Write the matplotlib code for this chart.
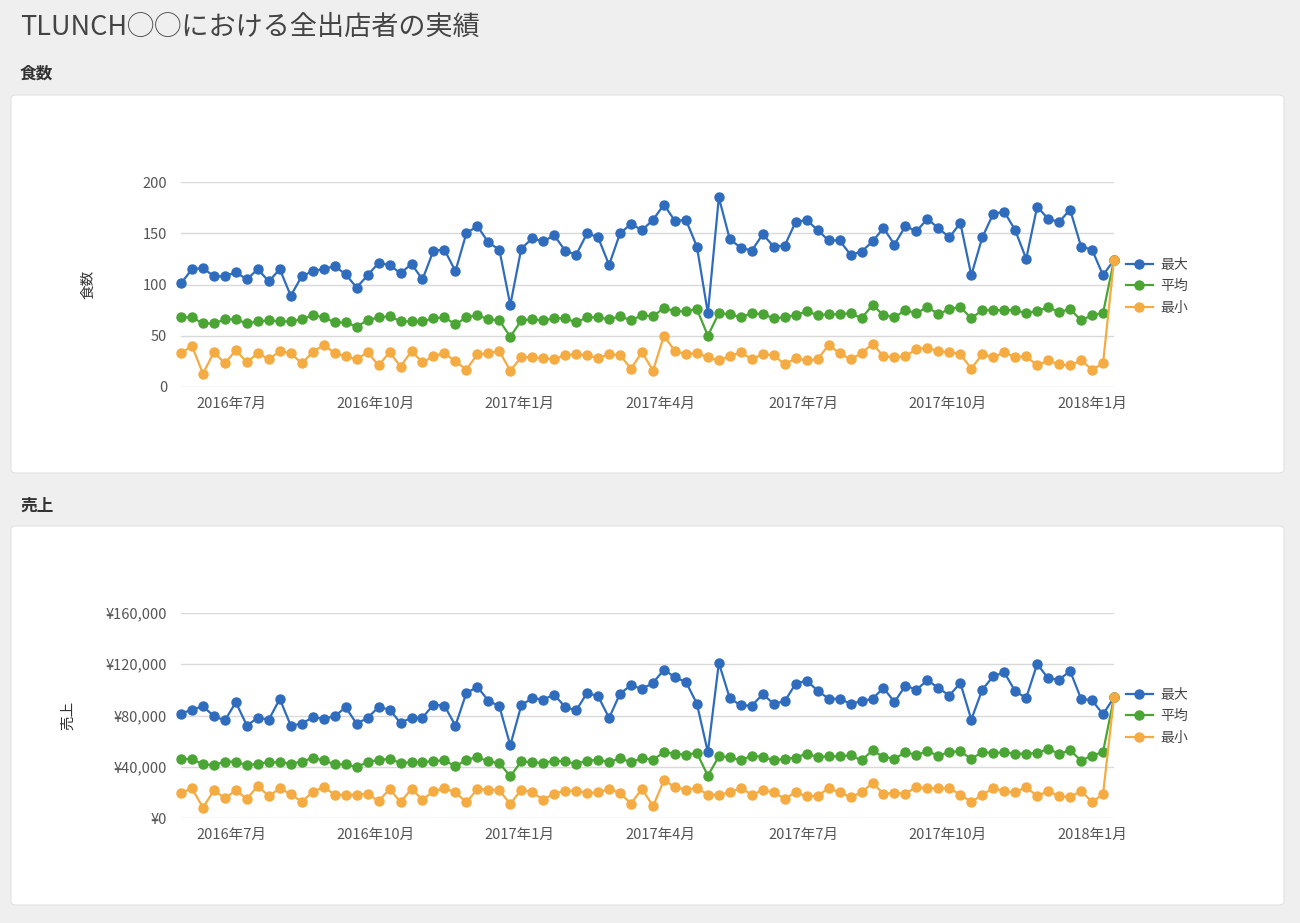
import matplotlib
matplotlib.use("Agg")
import matplotlib.pyplot as plt
import matplotlib.dates as mdates
from matplotlib.patches import FancyBboxPatch
from matplotlib.ticker import FuncFormatter, MultipleLocator
import pandas as pd

plt.rcParams['font.family'] = ['Noto Sans CJK JP', 'DejaVu Sans']

# weekly dates (Mondays)
weeks = pd.date_range('2016-05-30', periods=86, freq='W-MON')

# 食数
meals_max = [101, 115, 116, 108, 108, 112, 105, 115, 103, 115, 89, 108, 113, 115, 118, 110, 97, 109, 121, 119,
             111, 120, 105, 133, 134, 113, 150, 157, 141, 134, 80, 135, 145, 142, 148, 133, 129, 150, 146, 119,
             150, 159, 153, 163, 178, 162, 163, 137, 72, 185, 144, 136, 133, 149, 137, 138, 161, 163, 153, 143,
             143, 129, 132, 142, 155, 139, 157, 152, 164, 155, 146, 160, 109, 146, 169, 171, 153, 125, 176, 164,
             161, 173, 137, 134, 109, 124]
meals_avg = [68, 68, 62, 62, 66, 66, 62, 64, 65, 64, 64, 66, 70, 68, 63, 63, 59, 65, 68, 69,
             64, 64, 64, 67, 68, 61, 68, 70, 66, 65, 49, 65, 66, 65, 67, 67, 63, 68, 68, 66,
             69, 65, 70, 69, 77, 74, 74, 76, 50, 72, 71, 68, 72, 71, 67, 68, 70, 74, 70, 71,
             71, 72, 67, 80, 70, 68, 75, 72, 78, 71, 76, 78, 67, 75, 75, 75, 75, 72, 74, 78,
             73, 76, 65, 70, 72, 124]
meals_min = [33, 40, 13, 34, 23, 36, 24, 33, 27, 35, 33, 23, 34, 41, 33, 30, 27, 34, 21, 34,
             20, 35, 24, 30, 33, 25, 17, 32, 33, 35, 16, 29, 29, 28, 27, 31, 32, 31, 28, 32,
             31, 18, 34, 16, 50, 35, 32, 33, 29, 26, 30, 34, 27, 32, 31, 22, 28, 26, 27, 41,
             33, 27, 33, 42, 30, 29, 30, 37, 38, 35, 34, 32, 18, 32, 29, 34, 29, 30, 21, 26,
             22, 21, 26, 17, 23, 124]

# 売上 (thousand yen)
sales_max = [81.4, 84.6, 87.2, 79.4, 76.2, 90.3, 72.1, 78.3, 76.8, 92.9, 72.1, 73.6, 78.6, 77.5, 79.4, 86.4,
             73.6, 78.1, 86.6, 84.6, 74.2, 78.3, 78.3, 88.5, 87.7, 72.1, 97.6, 102.3, 91.6, 87.2, 56.7, 87.9,
             93.7, 92.4, 96.3, 86.6, 84.0, 97.6, 95.0, 78.1, 97.1, 103.6, 100.7, 105.4, 115.8, 109.8, 106.2,
             89.2, 51.3, 121.0, 93.4, 87.9, 87.7, 96.5, 89.2, 91.1, 104.9, 107.2, 99.4, 93.1, 93.1, 89.2, 91.1,
             93.1, 101.5, 90.5, 103.3, 100.2, 107.5, 101.5, 95.5, 105.4, 76.8, 100.2, 110.6, 113.7, 98.9, 93.7,
             120.2, 109.0, 108.0, 114.7, 93.1, 91.9, 80.9, 94.2]
sales_avg = [46.1, 46.1, 41.9, 41.4, 44.0, 44.0, 41.1, 42.4, 43.5, 43.5, 42.4, 44.0, 46.8, 45.0, 41.9, 41.9,
             39.8, 43.5, 45.5, 46.1, 42.9, 43.5, 43.5, 44.5, 45.0, 40.3, 45.5, 47.4, 44.2, 42.9, 32.5, 44.2,
             43.5, 42.9, 44.8, 44.2, 42.2, 44.8, 45.5, 43.7, 46.6, 43.5, 46.8, 45.5, 51.3, 50.2, 49.4, 50.7,
             33.0, 48.1, 47.6, 45.0, 48.7, 47.6, 45.0, 46.1, 47.1, 50.2, 47.6, 48.1, 48.1, 48.9, 45.0, 52.8,
             47.6, 46.3, 51.3, 49.2, 52.0, 48.7, 51.5, 52.0, 46.1, 51.5, 50.7, 51.3, 50.2, 50.2, 50.7, 54.1,
             50.0, 52.8, 44.8, 48.7, 51.5, 94.2]
sales_min = [19.5, 23.2, 8.1, 21.6, 15.4, 21.6, 14.8, 25.2, 16.9, 23.2, 18.5, 12.7, 20.3, 24.2, 18.2, 18.2,
             18.2, 19.0, 13.0, 22.6, 12.5, 22.6, 14.3, 20.8, 23.2, 20.0, 12.2, 22.6, 22.1, 21.6, 10.9, 22.1,
             20.0, 14.3, 19.0, 21.3, 21.3, 19.5, 20.0, 22.6, 19.5, 11.2, 22.9, 9.1, 29.4, 24.2, 22.1, 23.4,
             18.2, 18.2, 20.0, 23.4, 18.2, 21.6, 20.0, 15.1, 20.0, 16.9, 17.4, 23.2, 20.0, 16.4, 20.0, 27.3,
             19.0, 19.5, 19.0, 24.2, 23.2, 23.2, 23.2, 18.2, 12.5, 18.2, 23.2, 20.8, 20.0, 24.2, 16.9, 21.3,
             16.9, 16.4, 21.1, 12.5, 18.5, 94.2]
sales_max = [v * 1000 for v in sales_max]
sales_avg = [v * 1000 for v in sales_avg]
sales_min = [v * 1000 for v in sales_min]

series_labels = ['最大', '平均', '最小']
colors = ['#2f6cbd', '#4aa534', '#f4ab41']

fig = plt.figure(figsize=(13, 9.23), dpi=100, facecolor='#efefef')

# title and section headers
fig.text(20 / 1300, 1 - 27 / 923, 'TLUNCH◯◯における全出店者の実績', fontsize=19.5,
         color='#444444', va='center', ha='left')
fig.text(20 / 1300, 1 - 74 / 923, '食数', fontsize=12, fontweight='bold',
         color='#333333', va='center', ha='left')
fig.text(20 / 1300, 1 - 506 / 923, '売上', fontsize=12, fontweight='bold',
         color='#333333', va='center', ha='left')

# white cards
for top, bottom in [(95, 473), (526, 905)]:
    card = FancyBboxPatch((11 / 1300, 1 - bottom / 923), 1273 / 1300, (bottom - top) / 923,
                          boxstyle='round,pad=0,rounding_size=0.004', transform=fig.transFigure,
                          facecolor='white', edgecolor='#e2e2e2', linewidth=0.8, zorder=-1)
    fig.patches.append(card)


def make_chart(rect, data, ylim, step, ylabel, label_x, fmt, legend_y):
    ax = fig.add_axes(rect)
    ax.set_facecolor('none')
    for vals, lab, col in zip(data, series_labels, colors):
        ax.plot(weeks, vals, color=col, linewidth=1.6, marker='o', markersize=6.5, label=lab,
                clip_on=False)
    ax.set_xlim(weeks[0], weeks[-1])
    ax.set_ylim(*ylim)
    ax.yaxis.set_major_locator(MultipleLocator(step))
    ax.yaxis.set_major_formatter(FuncFormatter(fmt))
    ax.xaxis.set_major_locator(mdates.MonthLocator(bymonth=[1, 4, 7, 10]))
    ax.xaxis.set_major_formatter(FuncFormatter(
        lambda x, p: f"{mdates.num2date(x).year}年{mdates.num2date(x).month}月"))
    ax.grid(axis='y', color='#d9d9d9', linewidth=1)
    ax.set_axisbelow(True)
    for s in ax.spines.values():
        s.set_visible(False)
    ax.tick_params(length=0, labelsize=10.5, labelcolor='#555555')
    ax.tick_params(axis='x', pad=7)
    ax.tick_params(axis='y', pad=10)
    ax.set_ylabel(ylabel, fontsize=10.5, color='#333333')
    ax.yaxis.set_label_coords(label_x, 0.5)
    ax.legend(loc='upper left', bbox_to_anchor=(1113 / 1300, legend_y), bbox_transform=fig.transFigure,
              frameon=False, fontsize=10, handlelength=2.0, labelspacing=0.55, handletextpad=0.5,
              labelcolor='#444444')
    return ax


make_chart([181 / 1300, 1 - 387 / 923, 933 / 1300, 205 / 923],
           [meals_max, meals_avg, meals_min], (0, 200), 50, '食数', -0.092,
           lambda v, p: f"{int(v)}", 1 - 245 / 923)
make_chart([181 / 1300, 1 - 818 / 923, 933 / 1300, 205 / 923],
           [sales_max, sales_avg, sales_min], (0, 160000), 40000, '売上', -0.1136,
           lambda v, p: f"¥{int(v):,}", 1 - 675 / 923)

fig.savefig('out.png', dpi=100, facecolor=fig.get_facecolor())
